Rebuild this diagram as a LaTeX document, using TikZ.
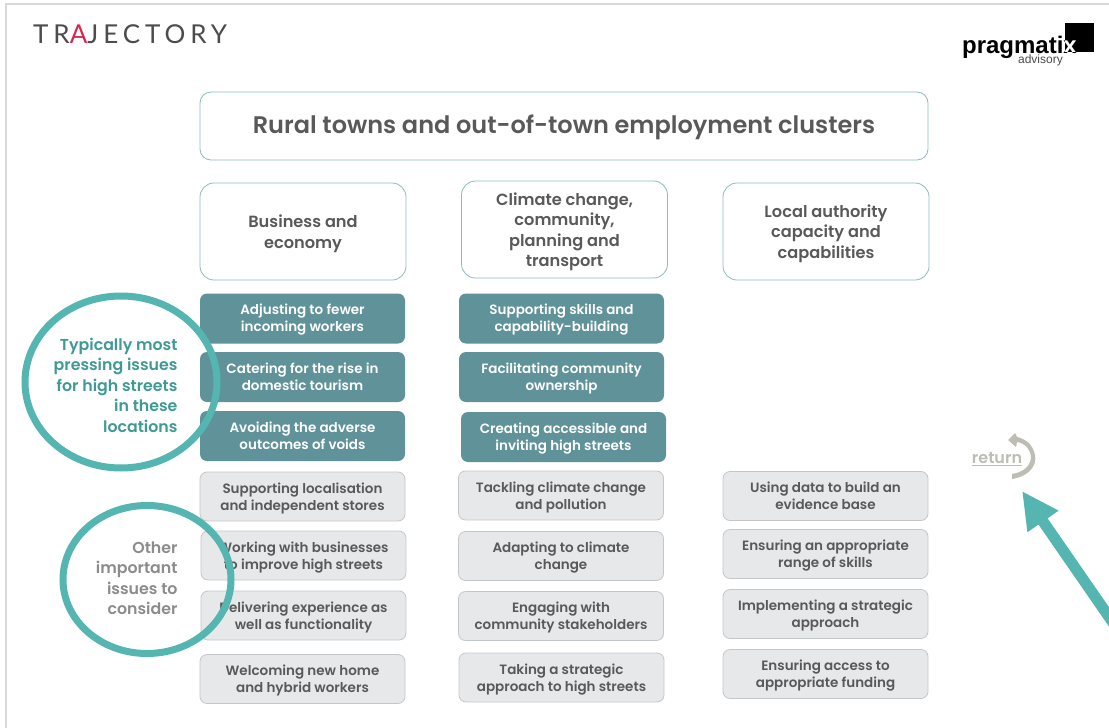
\documentclass[tikz,border=0pt]{standalone}
\usepackage{fontspec}
\usepackage{xcolor}
\setmainfont{Poppins}[BoldFont={Poppins SemiBold}]
\newfontfamily\logofont{Lato}
\newfontfamily\pragfont{Liberation Sans}
\definecolor{ringteal}{HTML}{55B5B0}
\definecolor{boxteal}{HTML}{5F9299}
\definecolor{boxgrey}{HTML}{E7E8EA}
\definecolor{edgegrey}{HTML}{C4C7CA}
\definecolor{edgeteal}{HTML}{8FBABD}
\definecolor{inkgrey}{HTML}{595959}
\definecolor{labelteal}{HTML}{3F9A95}
\definecolor{returngrey}{HTML}{BDBDB5}
\definecolor{logored}{HTML}{D9264F}
\usetikzlibrary{arrows.meta}
\tikzset{
    titlebox/.style={draw=edgeteal, fill=white, rounded corners=11pt, line width=0.8pt, minimum width=728pt, minimum height=68pt, align=center, text depth=3pt, text=inkgrey, font=\fontsize{24}{30}\selectfont\bfseries},
    headbox/.style={draw=edgeteal, fill=white, rounded corners=14pt, line width=0.8pt, minimum width=206pt, minimum height=97pt, align=center, text depth=-1.5pt, text=inkgrey, font=\fontsize{16.2}{20.5}\selectfont\bfseries},
    tealbox/.style={fill=boxteal, rounded corners=7pt, minimum width=205pt, minimum height=50pt, align=center, text depth=1pt, text=white, font=\fontsize{13.5}{17}\selectfont\bfseries},
    greybox/.style={draw=edgegrey, fill=boxgrey, rounded corners=7pt, line width=0.8pt, minimum width=205pt, minimum height=49pt, align=center, text depth=0.5pt, text=inkgrey, font=\fontsize{13.5}{17}\selectfont\bfseries},
    ringlabel/.style={align=right, anchor=east, font=\fontsize{15.8}{20.5}\selectfont\bfseries},
    ring/.style={draw=ringteal, line width=7pt}
}
\begin{document}
\begin{tikzpicture}[x=1pt, y=-1pt]
    \useasboundingbox (0,0) rectangle (1109,728);
    \clip (0,0) rectangle (1109,728);
    \fill[white] (0,0) rectangle (1109,728);
    \draw[line width=2pt, black!15] (6,728) -- (6,4) -- (1109,4);

    \node[anchor=west, inner sep=0pt, text=black!70, font=\logofont\fontsize{26}{30}\selectfont\addfontfeatures{LetterSpace=19}] (logoleft) at (33,34.5) {TR\textcolor{logored}{A}JECTORY};
    \node[anchor=east, inner sep=0pt, font=\pragfont\fontsize{24}{30}\selectfont\bfseries] (logoright) at (1077,47) {pragmatix};
    \node[anchor=east, inner sep=0pt, text=black!70, font=\pragfont\fontsize{12}{14}\selectfont] (logosub) at (1063,60.5) {advisory};
    \fill[white, blend mode=difference] (1065,23) rectangle (1094,52);

    \node[titlebox] (title) at (564,126) {Rural towns and out-of-town employment clusters};

    \node[headbox] (business) at (303,231.5) {Business and\\economy};
    \node[headbox] (climate) at (564.5,229.5) {Climate change,\\community,\\planning and\\transport};
    \node[headbox] (authority) at (826,231.5) {Local authority\\capacity and\\capabilities};

    \node[tealbox] (adjusting) at (302.5,318.5) {Adjusting to fewer\\incoming workers};
    \node[tealbox] (catering) at (302.5,377) {Catering for the rise in\\domestic tourism};
    \node[tealbox] (avoiding) at (302.5,436) {Avoiding the adverse\\outcomes of voids};
    \node[tealbox] (skills) at (561.5,318.5) {Supporting skills and\\capability-building};
    \node[tealbox] (ownership) at (561.5,377) {Facilitating community\\ownership};
    \node[tealbox] (inviting) at (563.5,437) {Creating accessible and\\inviting high streets};

    \node[greybox] (localisation) at (302.5,496.5) {Supporting localisation\\and independent stores};
    \node[greybox] (businesses) at (303.5,555.5) {Working with businesses\\to improve high streets};
    \node[greybox] (experience) at (303.5,615.5) {Delivering experience as\\well as functionality};
    \node[greybox] (welcoming) at (302.5,679) {Welcoming new home\\and hybrid workers};
    \node[greybox] (pollution) at (561,495.5) {Tackling climate change\\and pollution};
    \node[greybox] (adapting) at (561,556) {Adapting to climate\\change};
    \node[greybox] (engaging) at (561,616) {Engaging with\\community stakeholders};
    \node[greybox] (strategic) at (561.5,677.5) {Taking a strategic\\approach to high streets};
    \node[greybox] (evidence) at (825.5,496) {Using data to build an\\evidence base};
    \node[greybox] (range) at (825.5,554) {Ensuring an appropriate\\range of skills};
    \node[greybox] (implementing) at (825.5,614) {Implementing a strategic\\approach};
    \node[greybox] (funding) at (825.5,674) {Ensuring access to\\appropriate funding};

    \node[ringlabel, text=labelteal] (pressing) at (181,385) {Typically most\\pressing issues\\for high streets\\in these\\locations};
    \node[ringlabel, text=black!45] (other) at (181,578) {Other\\important\\issues to\\consider};
    \draw[ring] (121,382) ellipse (96 and 86);
    \draw[ring] (147,579.5) ellipse (84 and 74);

    \node[inner sep=1pt, text=returngrey, font=\fontsize{16}{18}\selectfont\bfseries] (return) at (997,459) {\underline{return}};
    \fill[returngrey] (1012,479) .. controls (1030,476) and (1037,465) .. (1035,455) .. controls (1033,445) and (1026,439) .. (1017,437) -- (1015,433) -- (1008,440) -- (1016,447) -- (1017,442) .. controls (1025,443) and (1031,450) .. (1031,458) .. controls (1030,466) and (1024,472) .. (1012,474) -- cycle;

    \coordinate (arrowstart) at (1116,627);
    \coordinate (arrowtip) at (1022,491);
    \draw[-{Triangle[length=37pt, width=35pt]}, line width=11pt, ringteal] (arrowstart) -- (arrowtip);
\end{tikzpicture}
\end{document}
